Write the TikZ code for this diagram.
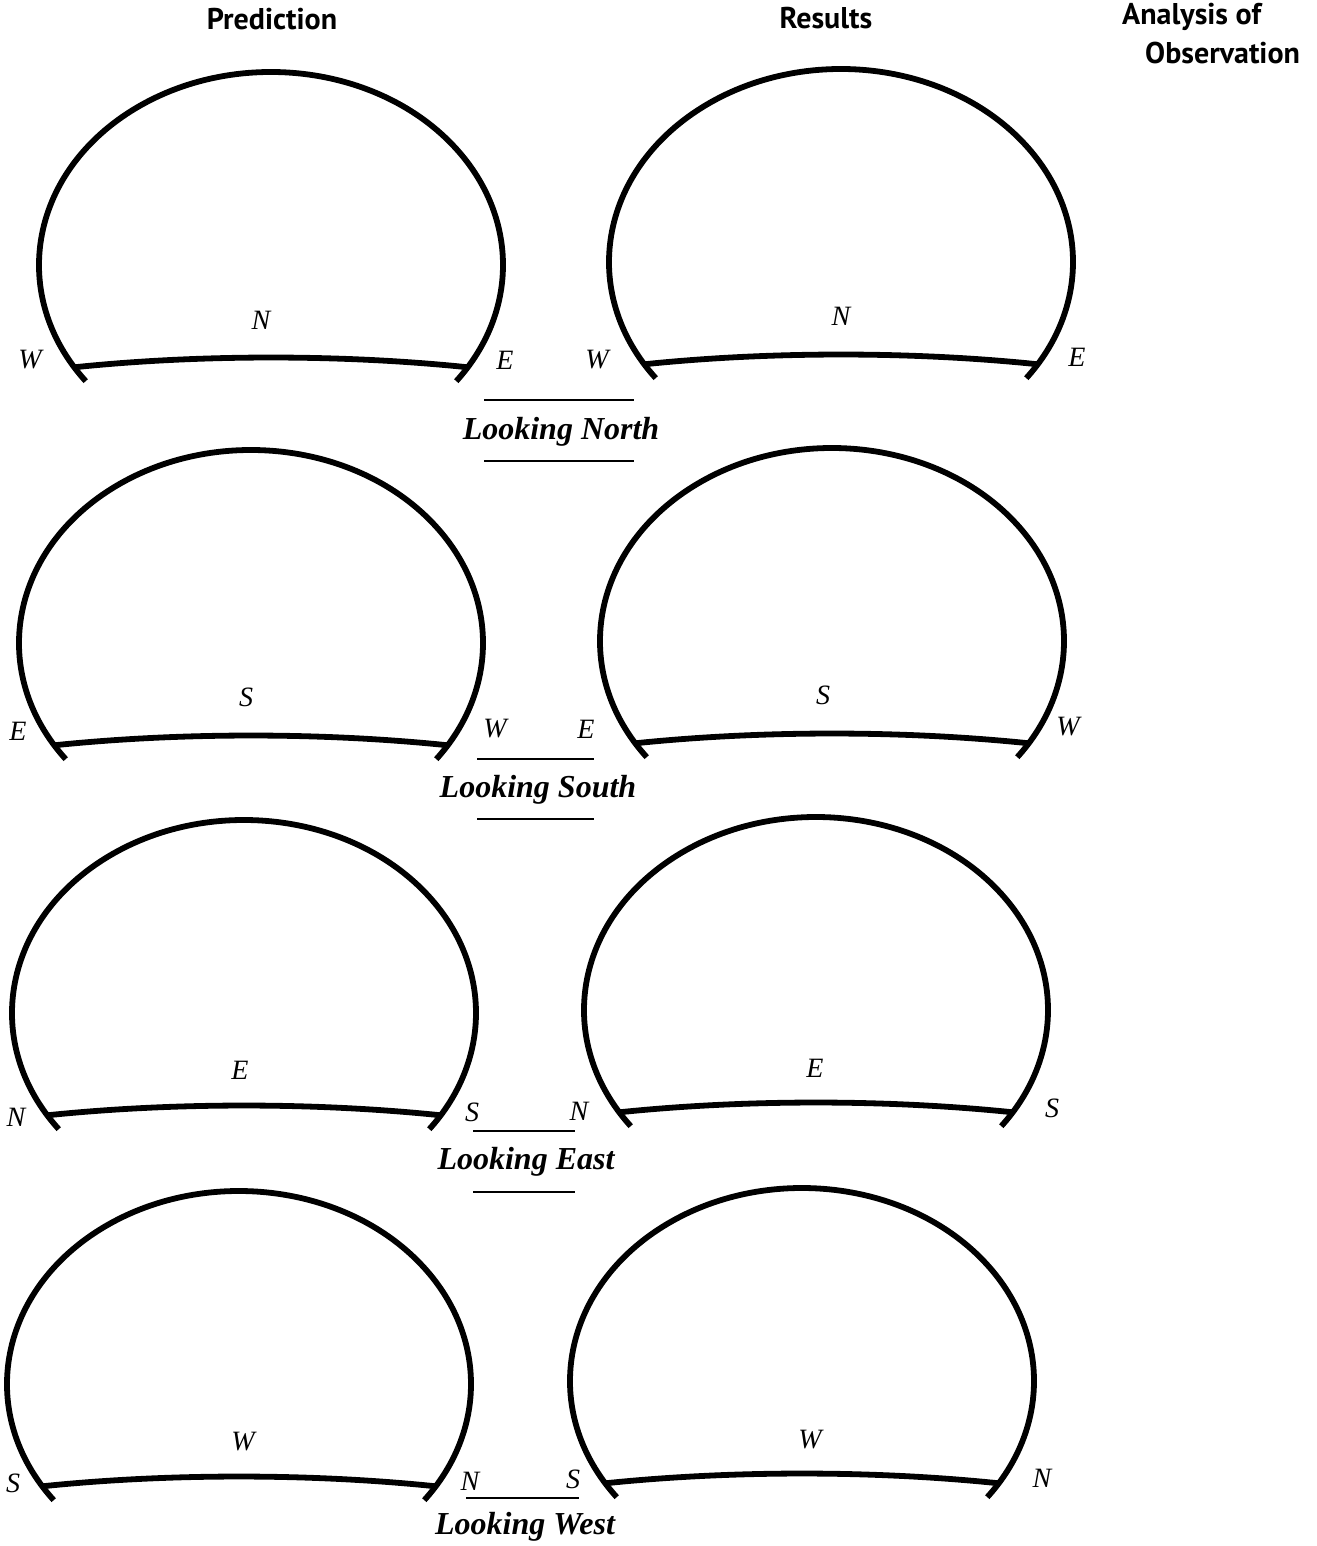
\documentclass[tikz,border=0pt]{standalone}
\usepackage{fontspec}
\setmainfont{Liberation Serif}
\newfontfamily\headfont{PT Sans}
\usetikzlibrary{calc}
\newcommand\mydome[2]{%
  \draw[domeline] (#1,-#2) ++(217:232 and 193) arc[start angle=217,end angle=-37,x radius=232,y radius=193];
  \draw[domeline] ($(#1,-#2)+(212:232 and 193)$) .. controls +(126,13) and +(-126,13) .. ($(#1,-#2)+(-32:232 and 193)$);
}
\begin{document}
\begin{tikzpicture}[x=1pt,y=1pt,
  domeline/.style={line width=5.8pt},
  cmp/.style={font=\fontsize{28}{30}\selectfont\itshape, inner sep=0pt},
  looklbl/.style={font=\fontsize{32}{34}\selectfont\bfseries\itshape, inner sep=0pt},
  head/.style={font=\headfont\bfseries\fontsize{30}{33}\selectfont, inner sep=0pt},
  rulel/.style={line width=1.3pt}]
\useasboundingbox (0,0) rectangle (1316,-1546);
% headers
\node[head] (hpred) at (272,-19) {Prediction};
\node[head] (hres) at (826,-18) {Results};
\node[head, anchor=west] (hana) at (1122,-17) {Analysis of};
\node[head, anchor=west] (hobs) at (1145,-53) {Observation};
% domes
\mydome{271}{265}
\mydome{841}{262}
\mydome{251}{643}
\mydome{832}{641}
\mydome{244}{1013}
\mydome{816}{1010}
\mydome{239}{1384}
\mydome{802}{1381}
% row 1
\node[cmp] (n1) at (261,-320) {N};
\node[cmp] (w1) at (30,-360) {W};
\node[cmp] (e1) at (505,-360) {E};
\node[cmp] (n2) at (841,-316) {N};
\node[cmp] (w2) at (597,-360) {W};
\node[cmp] (e2) at (1077,-357) {E};
\draw[rulel] (484,-400) -- (634,-400);
\node[looklbl] (lN) at (561,-432) {Looking North};
\draw[rulel] (484,-461) -- (634,-461);
% row 2
\node[cmp] (s3) at (246,-697) {S};
\node[cmp] (e3) at (18,-731) {E};
\node[cmp] (w3) at (495,-729) {W};
\node[cmp] (s4) at (823,-695) {S};
\node[cmp] (e4) at (586,-729) {E};
\node[cmp] (w4) at (1068,-727) {W};
\draw[rulel] (477,-759) -- (594,-759);
\node[looklbl] (lS) at (538,-790) {Looking South};
\draw[rulel] (477,-819) -- (594,-819);
% row 3
\node[cmp] (e5) at (240,-1070) {E};
\node[cmp] (n5) at (16,-1117) {N};
\node[cmp] (s5) at (472,-1112) {S};
\node[cmp] (e6) at (815,-1068) {E};
\node[cmp] (n6) at (579,-1111) {N};
\node[cmp] (s6) at (1052,-1108) {S};
\draw[rulel] (473,-1131) -- (575,-1131);
\node[looklbl] (lE) at (526,-1162) {Looking East};
\draw[rulel] (473,-1192) -- (575,-1192);
% row 4
\node[cmp] (w7) at (243,-1442) {W};
\node[cmp] (s7) at (13,-1483) {S};
\node[cmp] (n7) at (470,-1481) {N};
\node[cmp] (w8) at (810,-1440) {W};
\node[cmp] (s8) at (573,-1479) {S};
\node[cmp] (n8) at (1042,-1478) {N};
\draw[rulel] (466,-1498) -- (579,-1498);
\node[looklbl] (lW) at (525,-1527) {Looking West};
\end{tikzpicture}
\end{document}
